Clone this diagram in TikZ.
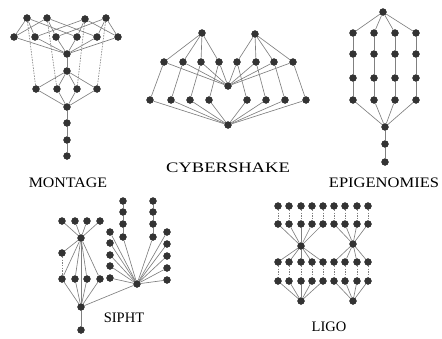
\documentclass[tikz,border=0pt]{standalone}
\usepackage{fontspec}
\setmainfont{Liberation Serif}
\begin{document}
\begin{tikzpicture}[x=1pt,y=-1pt,
  dot/.style={circle,fill=black!80,draw=none,inner sep=0pt,minimum size=7.2pt},
  edge/.style={draw=black!50,line width=0.65pt},
  dedge/.style={draw=black!50,line width=0.65pt,dash pattern=on 1.5pt off 1.2pt},
  lbl/.style={font=\fontsize{14.5}{15}\selectfont,inner sep=0pt}]
\useasboundingbox (0,0) rectangle (442,338);

% ---------------- MONTAGE ----------------
\foreach \n/\x/\y in {t1/27/18,t2/47/18,t3/85/19,t4/106/18,
  d1/14/37,d2/35/37,d3/56/37,d4/77/37,d5/97/37,d6/118/37,
  mc/67/54,mb/67/71,
  m1/36/89,m2/57/89,m3/77/89,m4/97/89,
  mi/67/107,ma/67/123,ms/67/140,mj/67/156}
  \node[dot] (\n) at (\x,\y) {};
\foreach \a/\b in {t1/d1,t1/d2,t1/d4,t2/d1,t2/d3,t2/d5,t3/d2,t3/d4,t3/d6,t4/d3,t4/d5,t4/d6}
  \draw[edge] (\a) -- (\b);
\foreach \a in {d1,d2,d3,d4,d5,d6} \draw[edge] (\a) -- (mc);
\draw[edge] (mc) -- (mb);
\foreach \a in {m1,m2,m3,m4} { \draw[edge] (mb) -- (\a); \draw[edge] (\a) -- (mi); }
\foreach \a/\b in {t1/m1,t2/m2,t3/m3,t4/m4} \draw[dedge] (\a) -- (\b);
\draw[edge] (mi) -- (ma) -- (ms) -- (mj);
\foreach \n in {t1,t2,t3,t4,d1,d2,d3,d4,d5,d6,mc,mb,m1,m2,m3,m4,mi,ma,ms,mj}
  \node[dot] at (\n) {};
\node[lbl] (montage) at (68,183) {\scalebox{1.1}[1]{MONTAGE}};

% ---------------- CYBERSHAKE ----------------
\node[dot] (ca) at (202,33) {};
\node[dot] (cb) at (255,34) {};
\node[dot] (cz) at (228,86) {};
\node[dot] (cp) at (228,125) {};
\foreach \x [count=\i] in {164,183,201,219,237,256,274,293}
  \node[dot] (s\i) at (\x,62) {};
\foreach \x [count=\i] in {150,171,190,209,247,266,285,306}
  \node[dot] (p\i) at (\x,100) {};
\foreach \i in {1,...,4} \draw[edge] (ca) -- (s\i);
\foreach \i in {5,...,8} \draw[edge] (cb) -- (s\i);
\foreach \i in {1,...,8} {
  \draw[edge] (s\i) -- (cz);
  \draw[edge] (s\i) -- (p\i);
  \draw[edge] (p\i) -- (cp);
}
\foreach \n in {ca,cb,cz,cp} \node[dot] at (\n) {};
\foreach \i in {1,...,8} { \node[dot] at (s\i) {}; \node[dot] at (p\i) {}; }
\node[lbl] (cyber) at (228,168) {\scalebox{1.28}[1]{CYBERSHAKE}};

% ---------------- EPIGENOMIES ----------------
\node[dot] (ea) at (383,12) {};
\foreach \x [count=\c] in {353,374,395,416}
  \foreach \y [count=\r] in {33,54,78,100}
    \node[dot] (e\c\r) at (\x,\y) {};
\node[dot] (em) at (385,127) {};
\node[dot] (en) at (385,144) {};
\node[dot] (eo) at (385,162) {};
\foreach \c in {1,...,4} {
  \draw[edge] (ea) -- (e\c1);
  \draw[edge] (e\c1) -- (e\c2) -- (e\c3) -- (e\c4);
  \draw[edge] (e\c4) -- (em);
}
\draw[edge] (em) -- (en) -- (eo);
\node[dot] at (ea) {};
\foreach \c in {1,...,4} \foreach \r in {1,...,4} \node[dot] at (e\c\r) {};
\foreach \n in {em,en,eo} \node[dot] at (\n) {};
\node[lbl] (epi) at (384,183) {\scalebox{1.14}[1]{EPIGENOMIES}};

% ---------------- SIPHT ----------------
\foreach \x [count=\i] in {62,75,87,100} {
  \node[dot] (q\i) at (\x,221) {};
  \node[dot] (w\i) at (\x,279) {};
}
\node[dot] (h1) at (81,238) {};
\node[dot] (qa) at (62,253) {};
\node[dot] (h2) at (81,307) {};
\node[dot] (hf) at (81,330) {};
\node[dot] (hr) at (137,284) {};
\foreach \y [count=\i] in {201,212,224,237} {
  \node[dot] (u\i) at (123,\y) {};
  \node[dot] (v\i) at (153,\y) {};
}
\foreach \y [count=\i] in {232,243,255,266,278} \node[dot] (l\i) at (110,\y) {};
\foreach \y [count=\i] in {232,244,256,268,280} \node[dot] (r\i) at (167,\y) {};
\foreach \i in {1,...,4} {
  \draw[edge] (q\i) -- (h1);
  \draw[edge] (h1) -- (w\i);
  \draw[edge] (w\i) -- (h2);
}
\draw[edge] (h1) -- (qa);
\draw[dedge] (qa) -- (w1);
\draw[edge] (h1) -- (h2);
\draw[edge] (h2) -- (hf);
\draw[edge] (h2) -- (hr);
\draw[edge] (u1) -- (u2) -- (u3) -- (u4);
\draw[edge] (v1) -- (v2) -- (v3) -- (v4);
\draw[edge] (u4) -- (hr);
\draw[edge] (v4) -- (hr);
\foreach \i in {1,...,5} {
  \draw[edge] (l\i) -- (hr);
  \draw[edge] (r\i) -- (hr);
}
\foreach \i in {1,...,4} {
  \node[dot] at (q\i) {}; \node[dot] at (w\i) {};
  \node[dot] at (u\i) {}; \node[dot] at (v\i) {};
}
\foreach \i in {1,...,5} { \node[dot] at (l\i) {}; \node[dot] at (r\i) {}; }
\foreach \n in {h1,qa,h2,hf,hr} \node[dot] at (\n) {};
\node[lbl] (sipht) at (124,318) {SIPHT};

% ---------------- LIGO ----------------
\foreach \x [count=\i] in {278,289,301,312,323,334,345,357,368} {
  \node[dot] (ga\i) at (\x,206) {};
  \node[dot] (gb\i) at (\x,224) {};
  \node[dot] (gc\i) at (\x,262) {};
  \node[dot] (gd\i) at (\x,281) {};
}
\node[dot] (gh1) at (301,246) {};
\node[dot] (gh2) at (353,244) {};
\node[dot] (gk1) at (301,301) {};
\node[dot] (gk2) at (353,301) {};
\foreach \i in {1,...,9} {
  \draw[dedge] (ga\i) -- (gb\i);
  \draw[dedge] (gc\i) -- (gd\i);
}
\foreach \i in {1,...,5} {
  \draw[edge] (gb\i) -- (gh1);
  \draw[edge] (gh1) -- (gc\i);
  \draw[edge] (gd\i) -- (gk1);
}
\foreach \i in {6,...,9} {
  \draw[edge] (gb\i) -- (gh2);
  \draw[edge] (gh2) -- (gc\i);
  \draw[edge] (gd\i) -- (gk2);
}
\foreach \i in {1,...,9} {
  \node[dot] at (ga\i) {}; \node[dot] at (gb\i) {};
  \node[dot] at (gc\i) {}; \node[dot] at (gd\i) {};
}
\foreach \n in {gh1,gh2,gk1,gk2} \node[dot] at (\n) {};
\node[lbl] (ligo) at (329,327) {LIGO};
\end{tikzpicture}
\end{document}
